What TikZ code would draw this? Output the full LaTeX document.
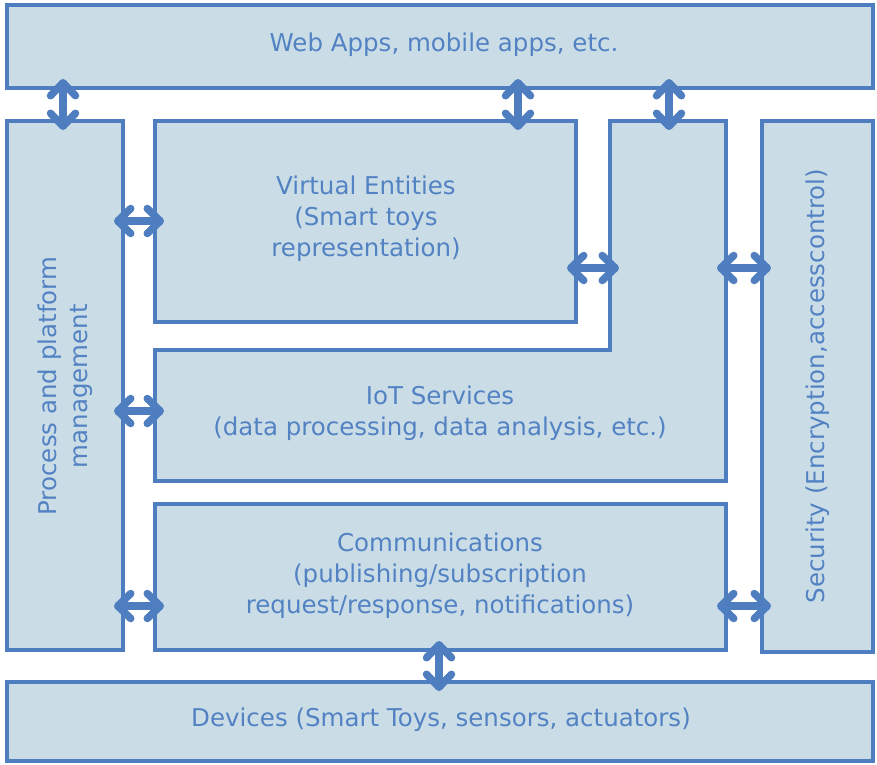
\documentclass[tikz,border=0pt]{standalone}
\usepackage{fontspec}
\setmainfont{DejaVu Sans}
\usetikzlibrary{arrows.meta}
\definecolor{boxfill}{HTML}{CADDE7}
\definecolor{boxline}{HTML}{4E7DC0}
\definecolor{boxtext}{HTML}{5382C3}
\tikzset{
  layer/.style={draw=boxline, fill=boxfill, line width=4pt},
  label/.style={text=boxtext, font=\fontsize{24.5}{31}\selectfont, align=center},
  link/.style={draw=boxline, line width=7.5pt, line cap=round,
    {Straight Barb[round, length=13pt, width=25pt]}-{Straight Barb[round, length=13pt, width=25pt]},
    shorten <=-9pt, shorten >=-9pt}
}
\begin{document}
\begin{tikzpicture}[x=1pt, y=-1pt]
\useasboundingbox (0,0) rectangle (877,764);

% layers
\path[layer] (7,5) rectangle (873,88);
\path[layer] (7,121) rectangle (123,650);
\path[layer] (155,121) rectangle (576,322);
\path[layer] (155,350) -- (610,350) -- (610,121) -- (726,121) -- (726,481) -- (155,481) -- cycle;
\path[layer] (155,504) rectangle (726,650);
\path[layer] (762,121) rectangle (873,652);
\path[layer] (7,682) rectangle (873,761);

% anchors on the layer edges
\coordinate (webA) at (63,88);   \coordinate (procA) at (63,121);
\coordinate (webB) at (518,88);  \coordinate (veB) at (518,121);
\coordinate (webC) at (669,88);  \coordinate (iotC) at (669,121);
\coordinate (procVE) at (123,221);  \coordinate (veL) at (155,221);
\coordinate (procIoT) at (123,411); \coordinate (iotL) at (155,411);
\coordinate (procCom) at (123,606); \coordinate (comL) at (155,606);
\coordinate (veR) at (576,268);  \coordinate (iotR1) at (610,268);
\coordinate (iotR2) at (726,268); \coordinate (secL1) at (762,268);
\coordinate (comR) at (726,606); \coordinate (secL2) at (762,606);
\coordinate (comB) at (439,650); \coordinate (devT) at (439,682);

% labels
\node[label] (web) at (444,45) {Web Apps, mobile apps, etc.};
\node[label, rotate=90] (proc) at (65,386) {Process and platform\\management};
\node[label] (ve) at (366,219) {Virtual Entities\\(Smart toys\\representation)};
\node[label] (iot) at (440,413) {IoT Services\\(data processing, data analysis, etc.)};
\node[label] (com) at (440,576) {Communications\\(publishing/subscription\\request/response, notifications)};
\node[label, rotate=90] (sec) at (818,386) {Security (Encryption,accesscontrol)};
\node[label] (dev) at (441,720) {Devices (Smart Toys, sensors, actuators)};

% connectors
\draw[link] (webA) -- (procA);
\draw[link] (webB) -- (veB);
\draw[link] (webC) -- (iotC);
\draw[link] (procVE) -- (veL);
\draw[link] (procIoT) -- (iotL);
\draw[link] (procCom) -- (comL);
\draw[link] (veR) -- (iotR1);
\draw[link] (iotR2) -- (secL1);
\draw[link] (comR) -- (secL2);
\draw[link] (comB) -- (devT);
\end{tikzpicture}
\end{document}
